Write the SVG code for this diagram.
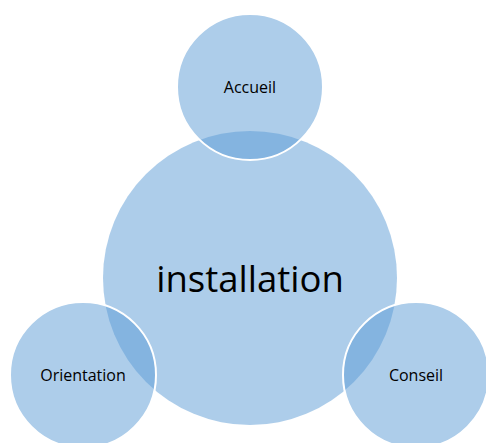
<svg xmlns="http://www.w3.org/2000/svg" width="486" height="443" viewBox="0 0 486 443">
<style>
.c{fill:#5b9bd5;fill-opacity:0.5}
.s{stroke:#ffffff;stroke-width:2}
.t{font-family:"Open Sans","Liberation Sans",sans-serif;fill:#000;text-anchor:middle}
</style>
<rect width="486" height="443" fill="#ffffff"/>
<g id="installation">
<circle class="c" cx="250" cy="278" r="147"/>
<text class="t" x="250" y="292" font-size="36.5">installation</text>
</g>
<g id="accueil">
<circle class="c s" cx="250" cy="87" r="73"/>
<text class="t" x="250" y="93" font-size="16">Accueil</text>
</g>
<g id="orientation">
<circle class="c s" cx="83" cy="375" r="73"/>
<text class="t" x="83" y="381" font-size="16">Orientation</text>
</g>
<g id="conseil">
<circle class="c s" cx="416" cy="375" r="73"/>
<text class="t" x="416" y="381" font-size="16">Conseil</text>
</g>
<g id="connectors"></g>
</svg>
